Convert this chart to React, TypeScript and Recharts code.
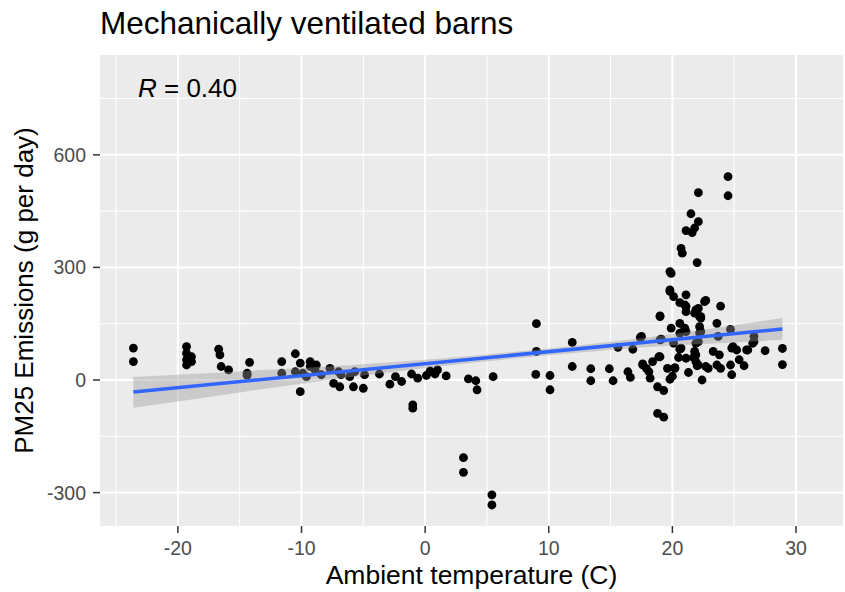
import React from "react";
import { ComposedChart, Scatter, Line, Area, XAxis, YAxis, CartesianGrid } from "recharts";

// ambient temperature (C) and PM25 emissions (g per day)
const tempC = [
  -23.6, -23.6, -19.3, -19.3, -18.9, -19.3, -18.9, -19.3, -16.7, -16.6, -16.5, -15.9, -14.2, -14.4, -14.4,
  -11.6, -11.6, -10.5, -10.1, -10.1, -10.5, -9.3, -9.3, -8.8, -9.6, -8.4, -7.7, -7.4, -6.9, -6.8, -6.1,
  -5.8, -5.7, -5.0, -8.9, -9.9, -7.0, -4.9, -3.7, -2.85, -2.4, -1.9, -1.1, -1.0, -1.0, -0.6, 0.1, 0.4,
  0.8, 1.0, 1.7, 3.5, 4.1, 4.2, 5.5, 3.1, 3.1, 5.4, 5.4, 9.0, 9.0, 8.95, 10.1, 10.1, 11.9, 11.9, 13.4,
  13.4, 14.9, 15.2, 15.6, 16.4, 16.6, 16.8, 17.4, 17.6, 17.9, 18.1, 18.2, 18.4, 18.9, 19.0, 18.8, 19.3,
  18.8, 19.3, 19.8, 19.6, 20.2, 19.1, 19.9, 20.6, 20.6, 20.1, 20.6, 21.1, 21.9, 21.9, 22.0, 22.4, 22.9,
  23.3, 23.8, 23.9, 24.7, 24.8, 25.4, 25.8, 24.8, 25.2, 26.0, 26.5, 26.6, 27.5, 28.9, 28.9, 24.7, 23.6,
  23.9, 22.6, 21.9, 22.2, 21.1, 21.0, 19.8, 22.2, 22.2, 21.9, 21.8, 21.1, 23.6, 22.1, 21.5, 22.1, 21.8,
  21.1, 21.6, 20.7, 20.8, 22.0, 19.8, 19.9, 19.8, 20.1, 20.6, 21.1, 21.1, 22.1, 22.3, 21.8, 19.0, 21.0,
  17.5, 19.0, 20.7, 19.0, 17.6, 20.2, 24.5, 24.5, 22.7, 22.3, 23.7, 22.1, 24.9, 26.1, 26.6, 22.3, 22.7,
  22.1, 21.7, 20.5, 21.3, 20.0,
];
const pm25 = [
  85, 49, 89, 71, 62, 54, 49, 40, 82, 67, 36, 27, 47, 18, 13,
  49, 18, 70, 45, -31, 22, 49, 36, 40, 9, 14, 31, -9, -18, 14, 9,
  -18, 22, -22, 27, 18, 22, 14, 16, -11, 9, -4, 16, -66, -75, 5, 12, 24,
  16, 27, 11, 3, -2, -26, 9, -207, -246, -306, -333, 150, 76, 15, 12, -26, 100, 36, 30,
  -2, 30, -2, 87, 22, 7, 82, 113, 40, 31, 22, 5, 49, 62, 169, -18, -28,
  -89, -99, 2, 31, 33, 109, 138, 151, 125, 98, 82, 58, 49, 67, 38, 0, 31,
  76, 67, 31, 40, 14, 54, 38, 85, 80, 80, 98, 116, 78, 84, 41, 135, 151,
  197, 209, 187, 169, 227, 200, 236, 142, 125, 98, 76, 129, 40, 499, 443, 422, 405,
  398, 393, 351, 338, 313, 289, 284, 240, 222, 206, 196, 182, 191, 169, 178, 171, 138,
  116, 107, 85, 62, 43, 31, 542, 491, 212, 129, 116, 102, 89, 80, 102, 165, 36,
  40, 60, 60, 20, 10,
];

// linear fit and its confidence band
const fitX = [-23.6, 28.9];
const fitY = [-32, 136];
const bandX = [-23.6, -15, -10, -5, 0, 5, 10, 15, 20, 25, 28.9];
const bandLow = [-74, -33, -10, 12, 32, 50, 66, 80, 92, 100, 107];
const bandHigh = [8, 23, 32, 42, 54, 68, 84, 102, 122, 146, 165];

const xTicks = [-20, -10, 0, 10, 20, 30];
const yTicks = [-300, 0, 300, 600];
const xMinor = [-25, -15, -5, 5, 15, 25];
const yMinor = [-150, 150, 450, 750];

const points = tempC.map((x, i) => ({ x, y: pm25[i] }));
const fit = fitX.map((x, i) => ({ x, y: fitY[i] }));
const band = bandX.map((x, i) => ({ x, band: [bandLow[i], bandHigh[i]] }));

const font = "'Liberation Sans', Arial, sans-serif";
const tickStyle = { fill: "#4D4D4D", fontSize: 19.5, fontFamily: font };

const Dot = (p: any) => <circle cx={p.cx} cy={p.cy} r={4.4} fill="#000" />;

export default function App() {
  return (
    <div style={{ position: "absolute", left: 0, top: 0, width: 845, height: 592, background: "#fff", fontFamily: font }}>
      <div style={{ position: "absolute", left: 100, top: 5, fontSize: 31.5, color: "#000", lineHeight: "36px" }}>
        Mechanically ventilated barns
      </div>
      <ComposedChart width={845} height={592} margin={{ top: 55, right: 2, left: 0, bottom: 0 }}>
        <CartesianGrid fill="#EBEBEB" stroke="#fff" strokeWidth={1} horizontalValues={yMinor} verticalValues={xMinor} />
        <CartesianGrid stroke="#fff" strokeWidth={2} horizontalValues={yTicks} verticalValues={xTicks} />
        <XAxis
          type="number"
          dataKey="x"
          domain={[-26.3, 33.8]}
          ticks={xTicks}
          allowDataOverflow
          height={66}
          axisLine={false}
          tickLine={{ stroke: "#333", strokeWidth: 1.5 }}
          tickSize={7}
          tickMargin={8}
          tick={tickStyle}
          label={{ value: "Ambient temperature (C)", position: "insideBottom", offset: 8, fill: "#000", fontSize: 26.5, fontFamily: font }}
        />
        <YAxis
          type="number"
          dataKey="y"
          domain={[-389, 866]}
          ticks={yTicks}
          allowDataOverflow
          width={100}
          axisLine={false}
          tickLine={{ stroke: "#333", strokeWidth: 1.5 }}
          tickSize={7}
          tickMargin={7}
          tick={tickStyle}
          label={{
            content: ({ viewBox }: any) => {
              const cy = viewBox.y + viewBox.height / 2;
              return (
                <text x={33} y={cy} transform={`rotate(-90 33 ${cy})`} textAnchor="middle" fill="#000" fontSize={26} fontFamily={font}>
                  PM25 Emissions (g per day)
                </text>
              );
            },
          }}
        />
        <Scatter data={points} dataKey="y" shape={Dot} isAnimationActive={false} />
        <Area
          data={band}
          dataKey="band"
          type="monotone"
          stroke="none"
          fill="#999999"
          fillOpacity={0.4}
          zIndex={700}
          isAnimationActive={false}
        />
        <Line data={fit} dataKey="y" stroke="#3366FF" strokeWidth={3.5} dot={false} zIndex={710} isAnimationActive={false} />
      </ComposedChart>
      <div style={{ position: "absolute", left: 138, top: 73, fontSize: 26, color: "#000", lineHeight: "30px" }}>
        <i>R</i> = 0.40
      </div>
    </div>
  );
}
